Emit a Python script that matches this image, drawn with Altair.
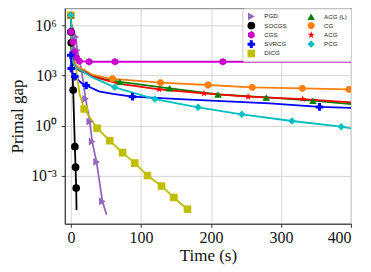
import altair as alt
import pandas as pd

# ---------------- data ----------------
pgd_t = [0, 7, 9, 13, 17, 21, 27, 30.4, 36.7, 45, 51]
pgd_gap = [1.58e6, 2.0e5, 3.2e4, 6.3e3, 631, 40, 1.74, 0.112, 0.0068, 3.0e-5, 4.8e-6]
pgd_mt = [7, 9, 21, 27, 30.4, 36.7, 45]
pgd_mgap = [2.0e5, 3.2e4, 40, 1.74, 0.112, 0.0068, 3.0e-5]

socgs_t = [0, 0.5, 3.3, 5.7, 6.7, 7.6, 8.1]
socgs_gap = [4.0e5, 8.9e4, 135, 0.056, 0.0033, 1.86e-4, 9.3e-6]
socgs_mt = [0, 0.5, 3.3, 5.7, 6.7, 7.6]
socgs_mgap = [4.0e5, 8.9e4, 135, 0.056, 0.0033, 1.86e-4]

cgs_t = [0, 3, 5, 8, 12, 26, 63, 217, 400]
cgs_gap = [4.0e5, 1.0e5, 2.5e4, 1.12e4, 7.2e3, 6.6e3, 6.6e3, 6.6e3, 6.6e3]
cgs_mt = [0, 3, 5, 8, 12, 26, 63, 217]
cgs_mgap = [4.0e5, 1.0e5, 2.5e4, 1.12e4, 7.2e3, 6.6e3, 6.6e3, 6.6e3]

svrcg_t = [0, 0.5, 2, 5.7, 10, 15, 22, 40, 60, 88, 155, 284, 355, 400]
svrcg_gap = [1.6e4, 2.6e3, 1.4e3, 832, 562, 355, 251, 112, 79, 54, 39, 21.4, 13.2, 11.7]
svrcg_mt = [0, 0.5, 5.7, 22, 88, 355]
svrcg_mgap = [1.6e4, 2.6e3, 832, 251, 54, 13.2]

dicg_t = [0, 2, 4.3, 6.7, 9, 12.8, 19, 37.5, 55.6, 73.8, 91.3, 109.4, 129.4, 147, 166.5]
dicg_gap = [4.0e6, 6.3e4, 1.26e4, 5.0e3, 708, 71, 10, 0.71, 0.126, 0.0245, 0.0058,
            0.00105, 2.5e-4, 5.1e-5, 1.02e-5]
dicg_mt = [0, 19, 37.5, 55.6, 73.8, 91.3, 109.4, 129.4, 147, 166.5]
dicg_mgap = [4.0e6, 10, 0.71, 0.126, 0.0245, 0.0058, 0.00105, 2.5e-4, 5.1e-5, 1.02e-5]

acgl_t = [0, 0.5, 1.5, 3, 6, 12, 18.5, 30, 47, 70, 141, 210, 279, 345.6, 400]
acgl_gap = [4.0e6, 1.6e5, 2.0e4, 6.3e3, 3.2e3, 2.0e3, 1.58e3, 933, 631, 417, 170, 74, 49, 31, 19.5]
acgl_mt = [0, 70, 141, 210, 279, 345.6]
acgl_mgap = [4.0e6, 417, 170, 74, 49, 31]

cg_t = [0, 0.5, 1.5, 3, 6, 12, 18.5, 30, 47, 59.5, 128, 196, 259, 330.5, 397, 400]
cg_gap = [4.0e6, 1.6e5, 2.5e4, 8.9e3, 4.5e3, 2.8e3, 2.24e3, 1.12e3, 759, 631, 372, 269, 195,
          170, 148, 148]
cg_mt = [0, 59.5, 128, 196, 259, 330.5, 397]
cg_mgap = [4.0e6, 631, 372, 269, 195, 170, 148]

acg_t = [0, 0.5, 1.5, 3, 6, 12, 18.5, 30, 47, 70, 126, 190, 253, 331, 400]
acg_gap = [4.0e6, 1.6e5, 2.0e4, 6.3e3, 3.2e3, 2.0e3, 1.8e3, 891, 562, 316, 148, 85, 54, 39, 25]
acg_mt = [0, 126, 190, 253, 331]
acg_mgap = [4.0e6, 148, 85, 54, 39]

pcg_t = [0, 1, 2, 4, 8, 18.5, 30, 47, 62.8, 120, 181.6, 244, 315.7, 386, 400]
pcg_gap = [4.0e6, 1.0e5, 1.6e4, 5.0e3, 2.8e3, 1.66e3, 794, 389, 195, 39, 12.6, 4.8, 1.9, 0.87, 0.69]
pcg_mt = [0, 62.8, 120, 181.6, 244, 315.7, 386]
pcg_mgap = [4.0e6, 195, 39, 12.6, 4.8, 1.9, 0.87]

methods = ["PGD", "SOCGS", "CGS", "SVRCG", "DICG", "ACG (L)", "CG", "ACG", "PCG"]
colors = ["#9467bd", "#000000", "#cc00cc", "#0000ff", "#bfbf00", "#008000", "#ff7f0e",
          "#ff0000", "#00bfbf"]

x_ticks = [0, 100, 200, 300, 400]
y_ticks = [1e-3, 1, 1e3, 1e6]
y_tick_labels = ["10\u207b\u00b3", "10\u2070", "10\u00b3", "10\u2076"]

# ---------------- styles ----------------
star = ("M0,-1L0.235,-0.324L0.951,-0.309L0.380,0.124L0.588,0.809L0,0.4L-0.588,0.809"
        "L-0.380,0.124L-0.951,-0.309L-0.235,-0.324Z")
hexagon = "M0,-1L0.866,-0.5L0.866,0.5L0,1L-0.866,0.5L-0.866,-0.5Z"
octagon = ("M0.383,-0.924L0.924,-0.383L0.924,0.383L0.383,0.924L-0.383,0.924L-0.924,0.383"
           "L-0.924,-0.383L-0.383,-0.924Z")
shapes = ["triangle-right", "circle", hexagon, "cross", "square", "triangle-up", octagon,
          star, "diamond"]
marker_sizes = [60, 55, 62, 70, 48, 70, 66, 85, 85]

series = [
    ("PGD", pgd_t, pgd_gap, pgd_mt, pgd_mgap),
    ("SOCGS", socgs_t, socgs_gap, socgs_mt, socgs_mgap),
    ("CGS", cgs_t, cgs_gap, cgs_mt, cgs_mgap),
    ("SVRCG", svrcg_t, svrcg_gap, svrcg_mt, svrcg_mgap),
    ("DICG", dicg_t, dicg_gap, dicg_mt, dicg_mgap),
    ("ACG (L)", acgl_t, acgl_gap, acgl_mt, acgl_mgap),
    ("CG", cg_t, cg_gap, cg_mt, cg_mgap),
    ("ACG", acg_t, acg_gap, acg_mt, acg_mgap),
    ("PCG", pcg_t, pcg_gap, pcg_mt, pcg_mgap),
]

line_rows, mark_rows = [], []
for k, (name, t, g, mt, mg) in enumerate(series):
    for i, (a, b) in enumerate(zip(t, g)):
        line_rows.append({"method": name, "time": a, "gap": b, "k": k, "i": i})
    for a, b in zip(mt, mg):
        mark_rows.append({"method": name, "time": a, "gap": b, "k": k})
line_df = pd.DataFrame(line_rows)
mark_df = pd.DataFrame(mark_rows)

color_scale = alt.Scale(domain=methods, range=colors)
shape_scale = alt.Scale(domain=methods, range=shapes)
size_scale = alt.Scale(domain=methods, range=marker_sizes)

label_expr = " : ".join(
    f"datum.value < {v * 3} ? '{lab}'" for v, lab in zip(y_ticks, y_tick_labels)
) + " : ''"

SERIF = "Liberation Serif"
common_axis = dict(
    labelFont=SERIF, labelFontSize=16, labelColor="#111111",
    titleFont=SERIF, titleFontSize=17, titleFontWeight="normal", titleColor="#111111",
    gridColor="#d6d6d6", gridWidth=1, domainColor="#333333", tickColor="#333333",
    tickSize=3.5,
)
x_axis = alt.Axis(values=x_ticks, title="Time (s)", format="d", labelPadding=2,
                  titlePadding=2, **common_axis)
y_axis = alt.Axis(values=y_ticks, title="Primal gap", labelExpr=label_expr,
                  labelPadding=5, titlePadding=4, **common_axis)

x_enc = alt.X("time:Q", scale=alt.Scale(domain=[-8.6, 400], nice=False, zero=False),
              axis=x_axis)
y_enc = alt.Y("gap:Q", scale=alt.Scale(type="log", domain=[1.38e-6, 1.02e7], nice=False),
              axis=y_axis)

legend = alt.Legend(
    title=None, orient="none", legendX=178, legendY=0, columns=2,
    symbolStrokeWidth=0, symbolOffset=1, labelFont="Liberation Sans", labelFontSize=6.2,
    labelOffset=9, columnPadding=19, rowPadding=1.3, padding=4, fillColor="white",
    strokeColor="#cccccc", cornerRadius=2, labelColor="#222222",
)

lines = alt.Chart(line_df).mark_line(strokeWidth=1.8, clip=True).encode(
    x=x_enc, y=y_enc,
    color=alt.Color("method:N", scale=color_scale, legend=legend),
    detail="k:N",
    order="i:Q",
)
points = alt.Chart(mark_df).mark_point(filled=True, opacity=1, clip=True).encode(
    x=x_enc, y=y_enc,
    color=alt.Color("method:N", scale=color_scale, legend=legend),
    shape=alt.Shape("method:N", scale=shape_scale, legend=legend),
    size=alt.Size("method:N", scale=size_scale, legend=legend),
)

chart = alt.layer(lines, points).properties(
    width=287, height=216,
    padding={"left": 57, "top": 0, "right": 12, "bottom": 48},
    autosize=alt.AutoSizeParams(type="none"),
).configure_view(stroke="#999999", strokeWidth=1.2)

chart.save("out.html", embed_options={"renderer": "svg", "actions": False})
